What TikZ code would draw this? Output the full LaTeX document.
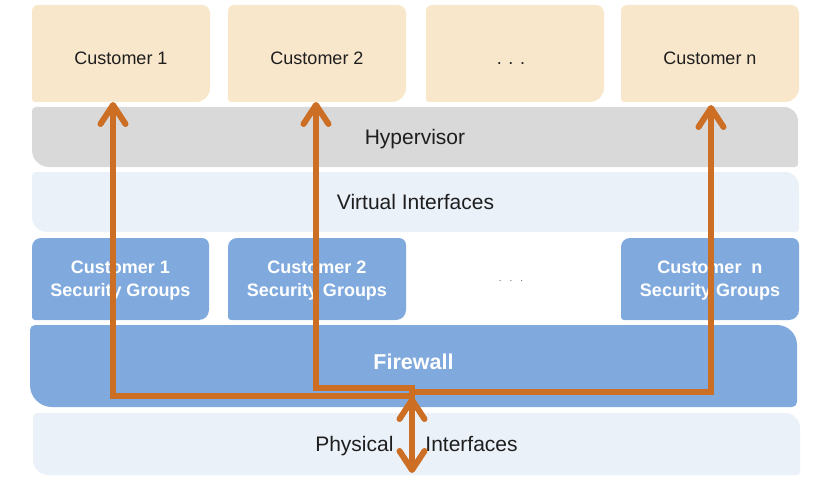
\documentclass[tikz,border=0pt]{standalone}
\usepackage{fontspec}
\setmainfont{Liberation Sans}
\usetikzlibrary{arrows.meta}
\pgfdeclarelayer{background}
\pgfsetlayers{background,main}
\definecolor{beige}{HTML}{F9E7CC}
\definecolor{hypgray}{HTML}{D9D9D9}
\definecolor{paleblue}{HTML}{EAF1F9}
\definecolor{midblue}{HTML}{80AADD}
\definecolor{arroworange}{HTML}{CC6E24}
\definecolor{txt}{HTML}{1E1E1E}
% #1 node, #2 colour, #3 tl, #4 tr, #5 br, #6 bl radii (pt)
\newcommand\cornerfill[6]{%
  \begin{pgfonlayer}{background}
  \fill[#2] ([yshift=-#3pt]#1.north west) arc[start angle=180,end angle=90,radius=#3pt]
    -- ([xshift=-#4pt]#1.north east) arc[start angle=90,end angle=0,radius=#4pt]
    -- ([yshift=#5pt]#1.south east) arc[start angle=0,end angle=-90,radius=#5pt]
    -- ([xshift=#6pt]#1.south west) arc[start angle=270,end angle=180,radius=#6pt]
    -- cycle;
  \end{pgfonlayer}}
\begin{document}
\begin{tikzpicture}[x=1pt,y=1pt,
  box/.style={rectangle, outer sep=0pt, inner sep=0pt, align=center},
  cust/.style={box, minimum width=178pt, minimum height=97pt, font=\fontsize{18}{22}\selectfont, text=txt, text height=22pt, text depth=0pt},
  layer/.style={box, minimum width=767pt, minimum height=60pt, font=\fontsize{21}{25}\selectfont, text=txt, text depth=0pt},
  sgbox/.style={box, minimum width=178pt, minimum height=82pt, font=\fontsize{18}{23}\selectfont\bfseries, text=white, text depth=0pt},
  fwbox/.style={box, minimum width=767pt, minimum height=82pt, font=\fontsize{21.5}{25}\selectfont\bfseries, text=white, text depth=8pt},
  flow/.style={draw=arroworange, line width=6pt, line join=miter},
  barb/.tip={Straight Barb[length=19pt,width=25pt,round]},
  tipend/.style={-barb}
]
\useasboundingbox (0,0) rectangle (820,-495);

% customers
\node[cust] (c1) at (121,-53.5) {Customer 1};
\node[cust] (c2) at (317,-53.5) {Customer 2};
\node[cust] (cdots) at (515,-53.5) {. . .\hspace{8pt}};
\node[cust] (cn) at (710,-53.5) {Customer n};
\foreach \n in {c1,c2,cdots,cn}{\cornerfill{\n}{beige}{6}{8}{14}{3}}

% hypervisor & virtual interfaces
\node[layer, minimum width=766pt] (hyp) at (415,-137) {Hypervisor};
\cornerfill{hyp}{hypgray}{4}{14}{3}{17}
\node[layer] (virt) at (415.5,-202) {Virtual Interfaces};
\cornerfill{virt}{paleblue}{4}{14}{3}{15}

% security groups
\node[sgbox, minimum width=177pt] (sg1) at (120.5,-279) {Customer 1\\Security Groups};
\node[sgbox] (sg2) at (317,-279) {Customer 2\\Security Groups};
\node[box, font=\fontsize{10}{12}\selectfont, text=txt!70] (sgdots) at (511,-281) {.\hspace{8pt}.\hspace{8pt}.};
\node[sgbox] (sgn) at (710,-279) {Customer\ \ n\\Security Groups};
\foreach \n in {sg1,sg2,sgn}{\cornerfill{\n}{midblue}{9}{7}{10}{3}}

% firewall
\node[fwbox] (fw) at (413.5,-366) {Firewall};
\cornerfill{fw}{midblue}{5}{20}{5}{22}

% physical interfaces
\node[layer, minimum height=62pt] (phys) at (416.5,-444) {Physical\hspace{32pt}Interfaces};
\cornerfill{phys}{paleblue}{4}{15}{3}{15}

% flows
\coordinate (hub) at (412,-396);
\coordinate (k1) at (113,-396);
\coordinate (h2) at (412,-388);
\coordinate (k2) at (316,-388);
\coordinate (hn) at (412,-392);
\coordinate (kn) at (711,-392);
\coordinate (dtop) at (412,-397);
\coordinate (dbot) at (412,-473);

\draw[flow, tipend] ([xshift=3pt]hub) -- (k1) -- (k1 |- c1.south);
\draw[flow, tipend] ([yshift=-3pt]hub) -- ([yshift=3pt]h2) -- (h2) -- (k2) -- (k2 |- c2.south);
\draw[flow, tipend] (hn) -- (kn) -- ([yshift=-3pt]kn |- cn.south);
\draw[flow, barb-barb] (dtop) -- (dbot);
\end{tikzpicture}
\end{document}
